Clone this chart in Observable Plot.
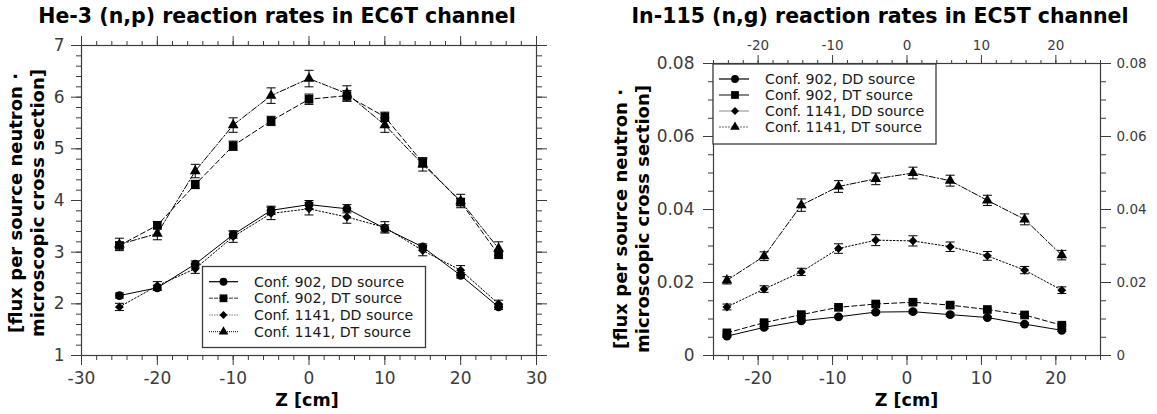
<!DOCTYPE html>
<html><head><meta charset="utf-8">
<script src="https://cdn.jsdelivr.net/npm/d3@7"></script>
<script src="https://cdn.jsdelivr.net/npm/@observablehq/plot@0.6"></script>
<style>
body{margin:0;background:#fff;}
#fig{position:relative;width:1157px;height:414px;font-family:"DejaVu Sans",sans-serif;overflow:hidden;background:#fff}
.abs{position:absolute;white-space:nowrap;line-height:1;color:#000}
.title{font-weight:bold;font-size:20.5px;transform:translate(-50%,-50%)}
.ylab{font-weight:bold;font-size:18px;line-height:22px;text-align:center;transform:translate(-50%,-50%) rotate(-90deg)}
.xlab{font-weight:bold;font-size:17.5px;transform:translate(-50%,-50%)}
svg.plot{position:absolute;top:0}
</style></head><body><div id="fig"></div><script>
// ---------- data: left chart (He-3 (n,p), EC6T) ----------
const zLeft = [-25, -20, -15, -10, -5, 0, 5, 10, 15, 20, 25];
const he902DD  = [2.16, 2.31, 2.77, 3.34, 3.81, 3.92, 3.84, 3.46, 3.10, 2.55, 1.94];
const he902DDerr = [0.05, 0.05, 0.06, 0.07, 0.08, 0.08, 0.08, 0.07, 0.06, 0.05, 0.05];
const he902DT  = [3.13, 3.52, 4.31, 5.06, 5.54, 5.96, 6.03, 5.62, 4.73, 3.97, 2.95];
const he902DTerr = [0.06, 0.07, 0.08, 0.09, 0.09, 0.10, 0.10, 0.09, 0.08, 0.07, 0.06];
const he1141DD = [1.94, 2.35, 2.68, 3.30, 3.75, 3.84, 3.68, 3.48, 3.03, 2.65, 2.00];
const he1141DDerr = [0.07, 0.08, 0.09, 0.11, 0.12, 0.12, 0.12, 0.11, 0.10, 0.09, 0.07];
const he1141DT = [3.15, 3.36, 4.57, 5.46, 6.03, 6.36, 6.07, 5.46, 4.70, 3.99, 3.07];
const he1141DTerr = [0.12, 0.12, 0.13, 0.14, 0.15, 0.16, 0.15, 0.14, 0.13, 0.13, 0.13];
const xTicksLeft = [-30, -20, -10, 0, 10, 20, 30];
const xTickLabelsLeft = ["-30", "-20", "-10", "0", "10", "20", "30"];
const yTicksLeft = [1, 2, 3, 4, 5, 6, 7];
const yTickLabelsLeft = ["1", "2", "3", "4", "5", "6", "7"];

// ---------- data: right chart (In-115 (n,g), EC5T) ----------
const zRight = [-24.2, -19.2, -14.2, -9.2, -4.2, 0.8, 5.8, 10.8, 15.8, 20.8];
const in902DD  = [0.0053, 0.0077, 0.0095, 0.0106, 0.0119, 0.0120, 0.0112, 0.0104, 0.0086, 0.0069];
const in902DDerr = [0.0003, 0.0003, 0.0003, 0.0003, 0.0004, 0.0004, 0.0004, 0.0003, 0.0003, 0.0003];
const in902DT  = [0.0062, 0.0090, 0.0112, 0.0132, 0.0141, 0.0146, 0.0138, 0.0126, 0.0111, 0.0083];
const in902DTerr = [0.0003, 0.0004, 0.0004, 0.0004, 0.0005, 0.0005, 0.0005, 0.0004, 0.0004, 0.0003];
const in1141DD = [0.0133, 0.0182, 0.0229, 0.0293, 0.0316, 0.0314, 0.0298, 0.0273, 0.0234, 0.0179];
const in1141DDerr = [0.0008, 0.0009, 0.0010, 0.0013, 0.0015, 0.0014, 0.0013, 0.0012, 0.0010, 0.0009];
const in1141DT = [0.0206, 0.0272, 0.0412, 0.0463, 0.0484, 0.0500, 0.0479, 0.0425, 0.0373, 0.0275];
const in1141DTerr = [0.0010, 0.0012, 0.0017, 0.0016, 0.0016, 0.0016, 0.0015, 0.0014, 0.0015, 0.0013];
const xTicksRight = [-20, -10, 0, 10, 20];
const xTickLabelsRight = ["-20", "-10", "0", "10", "20"];
const yTicksRight = [0, 0.02, 0.04, 0.06, 0.08];
const yTickLabelsRight = ["0", "0.02", "0.04", "0.06", "0.08"];

const seriesNames = ["Conf. 902, DD source", "Conf. 902, DT source", "Conf. 1141, DD source", "Conf. 1141, DT source"];
const symbols = ["circle", "square", "diamond2", "triangle"];
const symbolR = [4.4, 4.9, 4.0, 4.0];
const lineDash = [null, "5,3", "1.5,2", "6,2,1.5,2"];

// ---------- helpers ----------
const capSym = {draw(ctx) { ctx.moveTo(-4.5, 0); ctx.lineTo(4.5, 0); }};
function table(xs, ys, es) { return xs.map((x, i) => ({x, y: ys[i], e: es[i]})); }
function seriesMarks(rows, k) {
  return [
    Plot.line(rows, {x: "x", y: "y", stroke: "#000", strokeWidth: 1, strokeDasharray: lineDash[k]}),
    Plot.link(rows, {x1: "x", x2: "x", y1: d => d.y - d.e, y2: d => d.y + d.e, stroke: "#000", strokeWidth: 1}),
    Plot.dot(rows, {x: "x", y: d => d.y - d.e, symbol: capSym, stroke: "#000", fill: "none", strokeWidth: 1}),
    Plot.dot(rows, {x: "x", y: d => d.y + d.e, symbol: capSym, stroke: "#000", fill: "none", strokeWidth: 1}),
    Plot.dot(rows, {x: "x", y: "y", symbol: symbols[k], r: symbolR[k], fill: "#000", stroke: "none"})
  ];
}
const noText = () => "";
const labeler = (ticks, labels) => d => labels[ticks.indexOf(d)];
const fig = document.getElementById("fig");

// ---------- left chart ----------
const leftSeries = [
  table(zLeft, he902DD, he902DDerr), table(zLeft, he902DT, he902DTerr),
  table(zLeft, he1141DD, he1141DDerr), table(zLeft, he1141DT, he1141DTerr)
];
const leftPlot = Plot.plot({
  width: 580, height: 414,
  marginLeft: 81, marginRight: 44, marginTop: 45, marginBottom: 59,
  x: {domain: [-30, 30]},
  y: {domain: [1, 7]},
  style: {fontFamily: "DejaVu Sans", color: "#3c3c3c", background: "transparent", overflow: "visible"},
  marks: [
    Plot.axisX({ticks: xTicksLeft, tickSize: 10, tickPadding: 6, fontSize: 17, tickFormat: labeler(xTicksLeft, xTickLabelsLeft), label: null}),
    Plot.axisX({ticks: d3.range(-30, 31, 2), tickSize: 5, tickFormat: noText, label: null}),
    Plot.axisX({anchor: "top", ticks: xTicksLeft, tickSize: 10, tickFormat: noText, label: null}),
    Plot.axisX({anchor: "top", ticks: d3.range(-30, 31, 2), tickSize: 5, tickFormat: noText, label: null}),
    Plot.axisY({ticks: yTicksLeft, tickSize: 10, tickPadding: 7, fontSize: 17, tickFormat: labeler(yTicksLeft, yTickLabelsLeft), label: null}),
    Plot.axisY({ticks: d3.range(1, 7.01, 0.2), tickSize: 5, tickFormat: noText, label: null}),
    Plot.axisY({anchor: "right", ticks: yTicksLeft, tickSize: 10, tickFormat: noText, label: null}),
    Plot.axisY({anchor: "right", ticks: d3.range(1, 7.01, 0.2), tickSize: 5, tickFormat: noText, label: null}),
    Plot.frame({stroke: "#3c3c3c", strokeWidth: 1.2}),
    ...leftSeries.flatMap((rows, k) => seriesMarks(rows, k))
  ]
});
leftPlot.classList.add("plot");
leftPlot.style.left = "0px";
fig.appendChild(leftPlot);

// ---------- right chart ----------
const rightSeries = [
  table(zRight, in902DD, in902DDerr), table(zRight, in902DT, in902DTerr),
  table(zRight, in1141DD, in1141DDerr), table(zRight, in1141DT, in1141DTerr)
];
const yLab = labeler(yTicksRight, yTickLabelsRight);
const xLabR = labeler(xTicksRight, xTickLabelsRight);
const rightPlot = Plot.plot({
  width: 577, height: 414,
  marginLeft: 133, marginRight: 57, marginTop: 63, marginBottom: 59,
  x: {domain: [-26, 26]},
  y: {domain: [0, 0.08]},
  style: {fontFamily: "DejaVu Sans", color: "#3c3c3c", background: "transparent", overflow: "visible"},
  marks: [
    Plot.axisX({ticks: xTicksRight, tickSize: 10, tickPadding: 6, fontSize: 17, tickFormat: xLabR, label: null}),
    Plot.axisX({ticks: d3.range(-26, 27, 2), tickSize: 5, tickFormat: noText, label: null}),
    Plot.axisX({anchor: "top", ticks: xTicksRight, tickSize: 9, tickPadding: 5, fontSize: 13.5, tickFormat: xLabR, label: null}),
    Plot.axisX({anchor: "top", ticks: d3.range(-26, 27, 2), tickSize: 4, tickFormat: noText, label: null}),
    Plot.axisY({ticks: yTicksRight, tickSize: 10, tickPadding: 9, fontSize: 17, tickFormat: yLab, label: null}),
    Plot.axisY({ticks: d3.range(0, 0.0801, 0.005), tickSize: 5, tickFormat: noText, label: null}),
    Plot.axisY({anchor: "right", ticks: yTicksRight, tickSize: 10, tickPadding: 6, fontSize: 13.5, tickFormat: yLab, label: null}),
    Plot.axisY({anchor: "right", ticks: d3.range(0, 0.0801, 0.005), tickSize: 5, tickFormat: noText, label: null}),
    Plot.frame({stroke: "#3c3c3c", strokeWidth: 1.2}),
    ...rightSeries.flatMap((rows, k) => seriesMarks(rows, k))
  ]
});
rightPlot.classList.add("plot");
rightPlot.style.left = "580px";
fig.appendChild(rightPlot);

// ---------- titles & axis labels ----------
function addText(cls, html, x, y) {
  const d = document.createElement("div");
  d.className = "abs " + cls;
  d.innerHTML = html;
  d.style.left = x + "px";
  d.style.top = y + "px";
  fig.appendChild(d);
}
addText("title", "He-3 (n,p) reaction rates in EC6T channel", 277, 16);
addText("title", "In-115 (n,g) reaction rates in EC5T channel", 880, 16);
addText("ylab", "[flux per source neutron ·<br>microscopic cross section]", 27, 203);
addText("ylab", "[flux per source neutron ·<br>microscopic cross section]", 631.5, 219);
addText("xlab", "Z [cm]", 307, 401);
addText("xlab", "Z [cm]", 906.5, 401);

// ---------- legends ----------
const legSvg = d3.select(fig).append("svg")
  .attr("width", 1157).attr("height", 414)
  .style("position", "absolute").style("left", 0).style("top", 0)
  .style("font-family", "DejaVu Sans");
const symType = {circle: d3.symbolCircle, square: d3.symbolSquare, diamond2: d3.symbolDiamond2, triangle: d3.symbolTriangle};
function legend(box, rowsY, lineX, markX, textX, lineStyles) {
  legSvg.append("rect").attr("x", box[0]).attr("y", box[1]).attr("width", box[2]).attr("height", box[3])
    .attr("fill", "#fff").attr("stroke", "#3c3c3c").attr("stroke-width", 1.3);
  seriesNames.forEach((name, k) => {
    const y = rowsY[k];
    const ls = lineStyles[k];
    legSvg.append("line").attr("x1", lineX[0]).attr("x2", lineX[1]).attr("y1", y).attr("y2", y)
      .attr("stroke", ls.c).attr("stroke-width", ls.w).attr("stroke-dasharray", ls.d);
    legSvg.append("path").attr("transform", `translate(${markX},${y})`)
      .attr("d", d3.symbol(symType[symbols[k]], Math.PI * symbolR[k] * symbolR[k] * 0.8)()).attr("fill", "#000");
    legSvg.append("text").attr("x", textX).attr("y", y).attr("dy", "0.35em")
      .attr("font-size", 14.2).attr("fill", "#1a1a1a").text(name);
  });
}
legend([202.5, 266.5, 223, 81], [281.7, 298.3, 315, 331.7], [209, 238], 223.5, 254,
  [{c: "#000", w: 1.2, d: null}, {c: "#777", w: 1.4, d: "4,1"}, {c: "#aaa", w: 1.4, d: "1.5,1"}, {c: "#000", w: 1, d: "1,1"}]);
legend([713, 64, 223, 80], [79, 95, 111, 127], [719, 749], 735, 765,
  [{c: "#000", w: 1.2, d: null}, {c: "#333", w: 1.2, d: null}, {c: "#888", w: 1, d: null}, {c: "#666", w: 1, d: "2,1"}]);
</script></body></html>
